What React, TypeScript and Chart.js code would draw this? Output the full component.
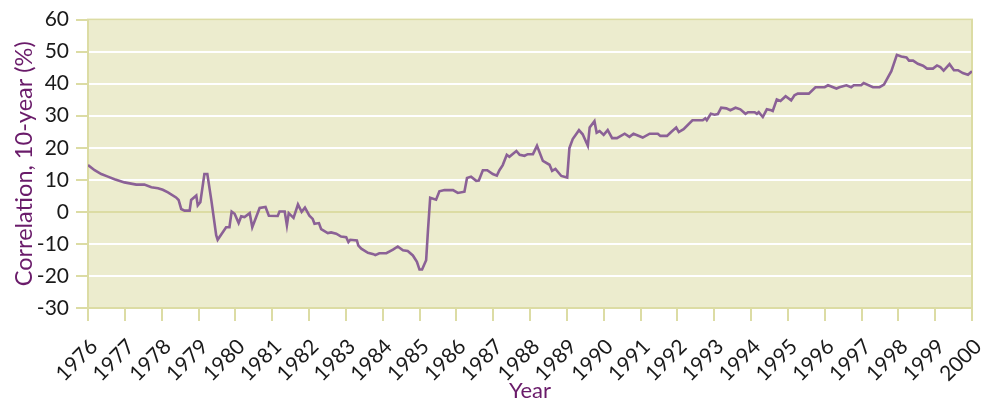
import React, { useEffect, useRef } from "react";
import { Chart, registerables } from "chart.js";

Chart.register(...registerables);

// Decimal year of each reading
const years: number[] = [
  1976.00, 1976.18, 1976.36, 1976.54, 1976.72, 1976.99, 1977.31, 1977.53, 1977.72, 1977.90,
  1978.03, 1978.17, 1978.39, 1978.46, 1978.53, 1978.62, 1978.76, 1978.80, 1978.94, 1978.98,
  1979.05, 1979.16, 1979.24, 1979.35, 1979.48, 1979.52, 1979.75, 1979.84, 1979.90, 1979.98,
  1980.09, 1980.16, 1980.25, 1980.39, 1980.46, 1980.66, 1980.82, 1980.91, 1981.15, 1981.20,
  1981.34, 1981.40, 1981.45, 1981.58, 1981.70, 1981.80, 1981.89, 1982.01, 1982.10, 1982.15,
  1982.27, 1982.33, 1982.51, 1982.60, 1982.74, 1982.87, 1983.01, 1983.07, 1983.12, 1983.30,
  1983.34, 1983.42, 1983.60, 1983.75, 1983.80, 1983.91, 1984.10, 1984.28, 1984.41, 1984.55,
  1984.68, 1984.82, 1984.93, 1985.00, 1985.07, 1985.18, 1985.23, 1985.29, 1985.45, 1985.54,
  1985.68, 1985.91, 1986.04, 1986.22, 1986.29, 1986.40, 1986.54, 1986.61, 1986.72, 1986.84,
  1986.99, 1987.10, 1987.17, 1987.26, 1987.37, 1987.44, 1987.63, 1987.72, 1987.85, 1987.94,
  1988.08, 1988.19, 1988.35, 1988.53, 1988.60, 1988.69, 1988.85, 1989.01, 1989.07, 1989.16,
  1989.33, 1989.43, 1989.57, 1989.62, 1989.75, 1989.81, 1989.89, 1990.00, 1990.11, 1990.23,
  1990.36, 1990.57, 1990.70, 1990.81, 1991.06, 1991.25, 1991.47, 1991.54, 1991.72, 1991.84,
  1991.97, 1992.04, 1992.17, 1992.41, 1992.69, 1992.76, 1992.80, 1992.91, 1993.01, 1993.10,
  1993.19, 1993.33, 1993.44, 1993.58, 1993.71, 1993.85, 1993.92, 1994.10, 1994.16, 1994.21,
  1994.32, 1994.43, 1994.55, 1994.59, 1994.70, 1994.80, 1994.94, 1995.09, 1995.18, 1995.27,
  1995.57, 1995.75, 1996.00, 1996.09, 1996.32, 1996.40, 1996.59, 1996.72, 1996.79, 1996.99,
  1997.06, 1997.31, 1997.49, 1997.61, 1997.81, 1997.96, 1998.08, 1998.22, 1998.29, 1998.40,
  1998.53, 1998.67, 1998.78, 1998.94, 1999.05, 1999.14, 1999.23, 1999.39, 1999.51, 1999.62,
  1999.75, 1999.89, 2000.00,
];

// Correlation, 10-year (%)
const correlation: number[] = [
  14.6, 13.0, 11.8, 11.0, 10.2, 9.2, 8.5, 8.5, 7.7, 7.4,
  6.9, 6.1, 4.5, 3.7, 0.9, 0.4, 0.4, 3.7, 5.1, 2.0,
  3.0, 11.8, 11.8, 3.5, -7.3, -8.7, -4.8, -4.8, 0.1, -0.6,
  -3.5, -1.4, -1.6, -0.4, -4.8, 1.2, 1.5, -1.2, -1.3, 0.1,
  0.1, -4.2, -0.4, -1.9, 2.3, 0.0, 1.3, -1.2, -2.2, -3.7,
  -3.5, -5.4, -6.6, -6.4, -6.8, -7.7, -7.9, -9.4, -8.7, -8.9,
  -10.5, -11.5, -12.8, -13.2, -13.5, -12.9, -12.9, -11.8, -10.8, -12.0,
  -12.2, -13.6, -15.6, -18.0, -18.0, -15.1, -5.8, 4.4, 3.8, 6.4,
  6.8, 6.8, 5.9, 6.3, 10.6, 11.0, 9.7, 9.8, 13.0, 13.0,
  11.8, 11.3, 13.0, 14.6, 17.8, 17.2, 19.0, 17.8, 17.5, 18.0,
  18.0, 20.6, 15.9, 14.7, 12.8, 13.4, 11.2, 10.7, 19.9, 22.7,
  25.5, 24.2, 20.6, 26.3, 28.3, 24.7, 25.2, 24.0, 25.5, 23.0,
  23.0, 24.4, 23.4, 24.4, 23.2, 24.4, 24.4, 23.7, 23.7, 25.0,
  26.3, 24.9, 25.8, 28.6, 28.6, 29.2, 28.6, 30.6, 30.3, 30.5,
  32.5, 32.3, 31.7, 32.5, 32.0, 30.6, 31.1, 31.1, 30.6, 31.1,
  29.6, 32.0, 31.7, 31.5, 35.1, 34.6, 36.1, 34.8, 36.4, 36.9,
  36.9, 38.9, 38.9, 39.5, 38.5, 38.9, 39.5, 38.9, 39.5, 39.5,
  40.2, 38.9, 38.9, 39.7, 43.9, 49.0, 48.5, 48.2, 47.2, 47.2,
  46.2, 45.6, 44.7, 44.7, 45.7, 45.2, 44.1, 46.1, 44.2, 44.2,
  43.3, 42.8, 43.9,
];

const yearMin = 1976;
const yearMax = 2000;
const yMin = -30;
const yMax = 60;
const yStep = 10;

const xTitle = "Year";
const yTitle = "Correlation, 10-year (%)";

const PLOT_BG = "#ececce";
const BORDER = "#dcdca4";
const LINE = "#8b6196";
const TITLE = "#6a1b6a";
const TEXT = "#1a1a1a";
const FONT = "Lato, 'Open Sans', sans-serif";

export default function App() {
  const ref = useRef<HTMLCanvasElement | null>(null);

  useEffect(() => {
    document.body.style.margin = "0";
    const canvas = ref.current;
    if (!canvas) return;

    const plotDeco = {
      id: "plotDeco",
      beforeDraw(chart: any) {
        const { ctx, chartArea: a } = chart;
        ctx.save();
        ctx.fillStyle = PLOT_BG;
        ctx.fillRect(a.left, a.top, a.right - a.left, a.bottom - a.top);
        ctx.restore();
      },
      beforeDatasetsDraw(chart: any) {
        const { ctx, chartArea: a } = chart;
        ctx.save();
        ctx.strokeStyle = BORDER;
        ctx.lineWidth = 2;
        ctx.strokeRect(a.left, a.top, a.right - a.left, a.bottom - a.top);
        ctx.restore();
      },
    };

    const chart = new Chart(canvas, {
      type: "line",
      data: {
        datasets: [
          {
            data: years.map((x, i) => ({ x, y: correlation[i] })),
            borderColor: LINE,
            borderWidth: 2.6,
            pointRadius: 0,
            tension: 0,
            fill: false,
          },
        ],
      },
      options: {
        responsive: false,
        animation: false,
        events: [],
        layout: { padding: { top: 18, right: 13, left: 0, bottom: 0 } },
        plugins: {
          legend: { display: false },
          tooltip: { enabled: false },
        },
        scales: {
          x: {
            type: "linear",
            min: yearMin,
            max: yearMax,
            afterFit: (s: any) => {
              s.height = 94;
              s.paddingRight = 0;
              s.paddingLeft = 0;
            },
            ticks: {
              stepSize: 1,
              autoSkip: false,
              minRotation: 45,
              maxRotation: 45,
              padding: 2,
              labelOffset: 6,
              color: TEXT,
              font: { family: FONT, size: 21, lineHeight: 2.7 },
              callback: (v: any) => String(v),
            },
            grid: {
              drawOnChartArea: false,
              drawTicks: true,
              tickLength: 13,
              tickColor: BORDER,
              lineWidth: 2,
            },
            border: { display: false },
            title: {
              display: true,
              text: xTitle,
              color: TITLE,
              font: { family: FONT, size: 22, lineHeight: 1.0 },
              padding: { top: 0, bottom: 0 },
            },
          },
          y: {
            min: yMin,
            max: yMax,
            afterFit: (s: any) => {
              s.width = 88;
            },
            ticks: {
              stepSize: yStep,
              padding: 7,
              color: TEXT,
              font: { family: FONT, size: 21 },
            },
            grid: {
              color: (c: any) => (c.tick && c.tick.value === 0 ? BORDER : "#ffffff"),
              lineWidth: 2,
              tickLength: 12,
              tickColor: BORDER,
            },
            border: { display: false },
            title: {
              display: true,
              text: yTitle,
              color: TITLE,
              font: { family: FONT, size: 23.5 },
              padding: { top: 10, bottom: 0 },
            },
          },
        },
      },
      plugins: [plotDeco],
    } as any);

    return () => chart.destroy();
  }, []);

  return (
    <div style={{ width: 985, height: 402, position: "relative" }}>
      <canvas ref={ref} width={985} height={402} style={{ display: "block" }} />
    </div>
  );
}
